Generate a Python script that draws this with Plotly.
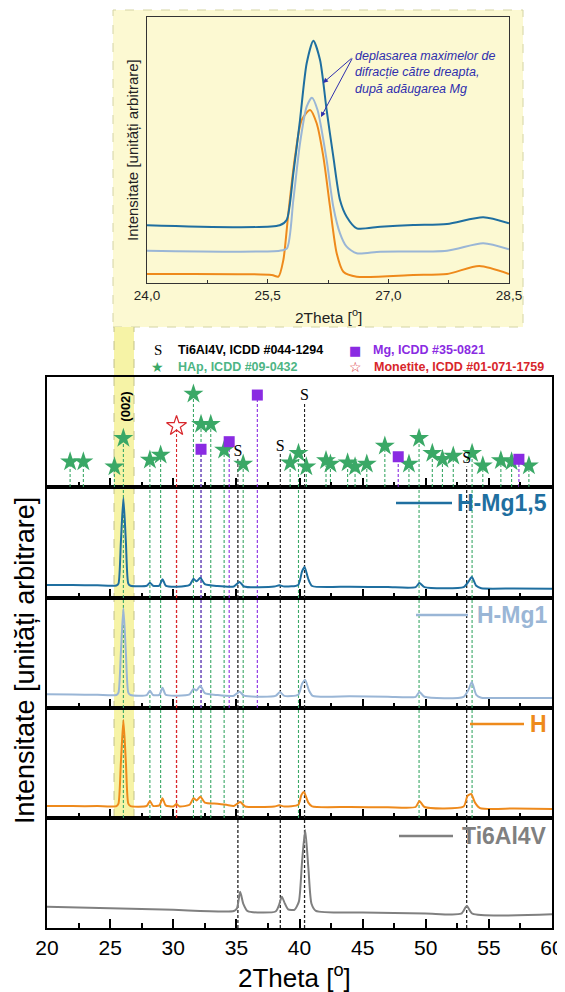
import plotly.graph_objects as go

# page is 565x992; browser body margin (8 px) is compensated
PAGE_W, PAGE_H = 565, 992
OFF = 8
W, H = PAGE_W - OFF, PAGE_H - OFF

# ---------------- DATA ----------------
# inset: (002) reflection, 24-28.5 deg
ins_hmg15_x = [24.0, 25.65, 25.736, 25.819, 25.902, 25.985, 26.068, 26.151, 26.233, 26.316, 26.399, 26.482, 26.607, 26.90, 27.31, 27.73, 28.18, 28.50]
ins_hmg15_y = [57.7, 57.7, 63.0, 109.7, 163.0, 219.7, 242.3, 223.0, 173.0, 126.3, 83.0, 66.3, 54.7, 56.3, 58.0, 59.0, 65.7, 59.7]
ins_hmg1_x = [24.0, 25.65, 25.74, 25.819, 25.902, 25.985, 26.05, 26.12, 26.233, 26.316, 26.399, 26.482, 26.607, 26.90, 27.73, 28.18, 28.50]
ins_hmg1_y = [32.3, 32.3, 34.7, 83.0, 139.7, 176.3, 185.3, 173.0, 123.0, 76.3, 49.7, 36.3, 29.7, 31.3, 32.3, 39.7, 33.7]
ins_h_x = [24.0, 25.55, 25.633, 25.695, 25.757, 25.840, 25.923, 26.027, 26.109, 26.192, 26.275, 26.358, 26.441, 26.607, 27.31, 27.73, 28.13, 28.50]
ins_h_y = [9.0, 8.0, 6.3, 23.0, 69.7, 126.3, 163.0, 173.0, 159.7, 126.3, 76.3, 29.7, 11.3, 6.3, 8.0, 9.0, 17.0, 9.0]

# main XRD patterns (arbitrary units, each panel 0-100)
hmg15_x = [20.0, 22.0, 24.0, 25.5, 25.66, 25.85, 26.05, 26.25, 26.44, 26.62, 27.9, 28.15, 28.4, 28.9, 29.15, 29.4, 30.3, 31.3, 31.6, 31.85,
           32.15, 32.5, 33.5, 34.8, 35.25, 35.6, 38.0, 38.4, 38.8, 39.9, 40.2, 40.4, 40.7, 41.0, 44.0, 47.0, 49.2, 49.5, 49.9, 53.0,
           53.4, 53.65, 54.0, 54.4, 57.0, 60.0]
hmg15_y = [11.8, 11.6, 11.4, 11.3, 13.0, 50.0, 90.0, 50.0, 13.0, 11.0, 11.0, 13.8, 11.0, 11.2, 17.0, 11.2, 10.2, 11.8, 17.3, 15.0,
           18.2, 12.5, 10.8, 10.4, 14.5, 10.4, 10.3, 11.5, 10.3, 11.8, 24.0, 28.0, 17.0, 10.8, 10.2, 9.8, 9.8, 13.6, 9.8, 9.8,
           15.0, 19.0, 11.0, 8.8, 8.6, 8.4]
hmg1_x = [20.0, 22.0, 24.0, 25.5, 25.66, 25.85, 26.05, 26.25, 26.44, 26.62, 27.9, 28.15, 28.4, 28.9, 29.15, 29.4, 30.3, 31.3, 31.6, 31.85,
          32.15, 32.5, 33.5, 34.8, 35.25, 35.6, 38.1, 38.45, 38.8, 39.9, 40.2, 40.45, 40.75, 41.05, 44.0, 47.0, 49.2, 49.5, 49.9, 53.0,
          53.4, 53.65, 54.0, 54.4, 57.0, 60.0]
hmg1_y = [12.4, 12.2, 12.0, 11.8, 14.0, 50.0, 90.6, 50.0, 14.0, 11.8, 11.8, 15.7, 11.8, 12.0, 18.5, 12.0, 11.2, 12.4, 17.3, 16.0,
          20.3, 13.5, 11.8, 11.2, 14.8, 11.2, 11.0, 14.5, 11.0, 12.0, 22.0, 25.5, 16.0, 11.0, 10.6, 10.2, 10.2, 14.5, 10.2, 10.2,
          17.0, 23.6, 12.0, 9.4, 9.2, 9.0]
h_x = [20.0, 22.0, 24.0, 25.5, 25.66, 25.85, 26.05, 26.25, 26.44, 26.62, 27.9, 28.15, 28.4, 28.9, 29.15, 29.4, 30.0, 30.25, 30.5, 31.3,
       31.6, 31.85, 32.15, 32.5, 33.5, 34.2, 34.8, 35.3, 35.7, 38.0, 38.4, 38.8, 39.9, 40.15, 40.35, 40.7, 41.0, 44.0, 47.0, 49.2,
       49.5, 49.9, 53.0, 53.3, 53.6, 53.9, 54.3, 57.0, 60.0]
h_y = [11.0, 10.8, 10.8, 10.8, 13.0, 50.0, 89.0, 50.0, 13.0, 10.8, 11.0, 15.5, 11.0, 11.5, 17.9, 11.5, 10.5, 12.7, 10.5, 12.0,
       18.0, 16.0, 19.4, 14.0, 13.0, 12.0, 11.0, 14.5, 10.5, 10.5, 11.5, 10.5, 12.0, 21.0, 23.6, 14.0, 10.5, 10.0, 9.8, 10.0,
       15.5, 10.0, 10.5, 20.0, 21.8, 14.0, 9.0, 8.6, 8.2]
ti_x = [20.0, 25.0, 30.0, 34.8, 35.05, 35.3, 35.55, 35.9, 38.1, 38.35, 38.6, 38.85, 39.1, 39.6, 39.95, 40.2, 40.45, 40.7, 40.95, 41.3,
        45.0, 50.0, 52.8, 53.25, 53.7, 60.0]
ti_y = [19.4, 18.0, 16.5, 15.5, 18.0, 33.0, 22.0, 15.3, 15.0, 20.0, 28.5, 22.0, 17.0, 16.5, 24.0, 60.0, 89.0, 55.0, 22.0, 15.5,
        14.0, 13.2, 13.0, 20.0, 13.0, 12.5]

# reference patterns (stick positions, relative heights 0-100)
hap_pos = [21.83, 22.88, 25.34, 26.05, 28.15, 29.0, 31.6, 32.2, 32.97, 34.03, 35.54, 39.26, 39.92, 40.54, 42.1, 42.45, 43.81, 44.4,
           45.33, 46.76, 48.67, 49.47, 50.52, 51.32, 52.18, 53.67, 54.52, 55.95, 56.8, 58.17]
hap_int = [23, 23, 18.5, 44.3, 24.5, 29.1, 84.5, 57, 57, 33.6, 20.9, 22.1, 30.6, 18.5, 24, 20.9, 22.1, 18.5,
           20.9, 37.3, 20.9, 44.3, 30.6, 25.2, 28.2, 30.6, 19.4, 24, 23, 19.4]
hap_ext = [26.05, 28.15, 29.0, 31.6, 32.2, 32.97, 34.03, 35.54, 39.92, 49.47, 53.67]
mg_pos = [32.2, 34.43, 36.66, 47.82, 57.38]
mg_int = [34.3, 41.2, 83.6, 27.5, 25.2]
mg_ext = [32.2, 34.43, 36.66]
ti_pos = [35.12, 38.48, 40.4, 53.24]
ti_int = [32.1, 36.6, 82.7, 25.2]
mon_pos = [30.26]
mon_int = [55.5]

xticks_main = [20, 25, 30, 35, 40, 45, 50, 55, 60]
xticks_inset = [24.0, 25.5, 27.0, 28.5]
xticks_inset_text = ["24,0", "25,5", "27,0", "28,5"]
band = [25.31, 26.89]

# ---------------- STYLE ----------------
C_HMG15 = "#1f6fa0"
C_HMG1 = "#9ab6d6"
C_H = "#ee8a1c"
C_TI = "#808080"
C_HAP = "#3aa866"
C_HAP_T = "#4db584"
C_MG = "#8a2be2"
C_MON = "#d8262b"
C_BLK = "#222222"
FONT = "Arial, Liberation Sans, sans-serif"


def xd(px):
    return (px - OFF) / W


def yd(px):
    return 1 - (px - OFF) / H


def segs(pos, y0, y1):
    xs, ys = [], []
    for p in pos:
        xs += [p, p, None]
        ys += [y0, y1, None]
    return xs, ys


def stems(pos, tops, off=0):
    xs, ys = [], []
    for p, t in zip(pos, tops):
        xs += [p, p, None]
        ys += [0, t - off, None]
    return xs, ys


fig = go.Figure()


def vline_trace(pos, color, xa, ya, width=1.1, y0=0, y1=100):
    xs, ys = segs(pos, y0, y1)
    fig.add_trace(go.Scatter(x=xs, y=ys, mode="lines", xaxis=xa, yaxis=ya,
                             line=dict(color=color, width=width, dash="3px,2px"), hoverinfo="skip"))


# ---- dashed extension lines in sample panels ----
for xa, ya in [("x4", "y4"), ("x3", "y3")]:
    vline_trace(hap_ext, C_HAP, xa, ya)
    vline_trace(mon_pos, C_MON, xa, ya, 1.3)
    vline_trace(mg_ext, C_MG, xa, ya)
    vline_trace(ti_pos, C_BLK, xa, ya, 1.3)
vline_trace(hap_ext, C_HAP, "x2", "y2")
vline_trace(mon_pos, C_MON, "x2", "y2", 1.3)
vline_trace(ti_pos, C_BLK, "x2", "y2", 1.3)
vline_trace(ti_pos, C_BLK, "x", "y", 1.3)

# ---- stems in reference panel ----
for pos, tops, col, off in [(hap_pos, hap_int, C_HAP, 0), (mon_pos, mon_int, C_MON, 3),
                            (mg_pos, mg_int, C_MG, 0), (ti_pos, ti_int, C_BLK, 6.5)]:
    xs, ys = stems(pos, tops, off)
    fig.add_trace(go.Scatter(x=xs, y=ys, mode="lines", xaxis="x5", yaxis="y5",
                             line=dict(color=col, width=1.1, dash="3px,2px"), hoverinfo="skip"))

# ---- patterns ----
for xs, ys, col, xa, ya in [(hmg15_x, hmg15_y, C_HMG15, "x4", "y4"), (hmg1_x, hmg1_y, C_HMG1, "x3", "y3"),
                            (h_x, h_y, C_H, "x2", "y2"), (ti_x, ti_y, C_TI, "x", "y")]:
    fig.add_trace(go.Scatter(x=xs, y=ys, mode="lines", xaxis=xa, yaxis=ya,
                             line=dict(color=col, width=2, shape="spline", smoothing=0.6), hoverinfo="skip"))

# ---- reference markers ----
fig.add_trace(go.Scatter(x=hap_pos, y=hap_int, mode="markers", xaxis="x5", yaxis="y5",
                         marker=dict(symbol="star", size=15, color=C_HAP, line=dict(width=0)), hoverinfo="skip"))
fig.add_trace(go.Scatter(x=mon_pos, y=mon_int, mode="markers", xaxis="x5", yaxis="y5",
                         marker=dict(symbol="star-open", size=15, color=C_MON, line=dict(width=1.2)), hoverinfo="skip"))
fig.add_trace(go.Scatter(x=mg_pos, y=mg_int, mode="markers", xaxis="x5", yaxis="y5",
                         marker=dict(symbol="square", size=11, color=C_MG, line=dict(width=0)), hoverinfo="skip"))
fig.add_trace(go.Scatter(x=ti_pos, y=ti_int, mode="text", text=["S"] * len(ti_pos), xaxis="x5", yaxis="y5",
                         textfont=dict(family="Liberation Serif, Times New Roman, serif", size=16, color="black"),
                         hoverinfo="skip"))

# ---- inset ----
for xs, ys, col in [(ins_h_x, ins_h_y, C_H), (ins_hmg1_x, ins_hmg1_y, C_HMG1), (ins_hmg15_x, ins_hmg15_y, C_HMG15)]:
    fig.add_trace(go.Scatter(x=xs, y=ys, mode="lines", xaxis="x6", yaxis="y6",
                             line=dict(color=col, width=2, shape="spline", smoothing=0.7), hoverinfo="skip"))

# ---------------- AXES ----------------
panels = [("", 818, 928), ("2", 708, 818), ("3", 598, 708), ("4", 487, 598), ("5", 377, 487)]
lay = {}
for i, (suf, top, bot) in enumerate(panels):
    lay["xaxis" + suf] = dict(
        domain=[xd(47), xd(552)], range=[20, 60], anchor="y" + suf, automargin=False,
        tickmode="array", tickvals=xticks_main, showticklabels=(suf == ""),
        ticks="inside", ticklen=9, tickwidth=2, tickcolor="black",
        minor=dict(ticks="inside", ticklen=5, tickwidth=1.5, tickcolor="black", tickmode="linear", tick0=20, dtick=2.5),
        showline=True, mirror=True, linecolor="black", linewidth=1.8,
        showgrid=False, zeroline=False,
        tickfont=dict(family=FONT, size=21, color="black"),
        **({} if suf == "" else {"matches": "x"}))
    lay["yaxis" + suf] = dict(
        domain=[yd(bot), yd(top)], range=[0, 100], anchor="x" + suf, automargin=False,
        showticklabels=False, ticks="", showline=True, mirror=True, linecolor="black", linewidth=1.8,
        showgrid=False, zeroline=False)

lay["xaxis6"] = dict(domain=[xd(147), xd(509)], range=[24, 28.5], anchor="y6", automargin=False,
                     tickmode="array", tickvals=xticks_inset, ticktext=xticks_inset_text,
                     ticks="inside", ticklen=4, tickwidth=1, tickcolor="#333",
                     minor=dict(ticks="inside", ticklen=3, tickwidth=1, tickcolor="#333",
                                tickmode="array", tickvals=[24.75, 26.25, 27.75]),
                     showline=True, mirror=True, linecolor="#333", linewidth=1.2,
                     showgrid=False, zeroline=False,
                     tickfont=dict(family=FONT, size=13.5, color="#222"))
lay["yaxis6"] = dict(domain=[yd(283), yd(17)], range=[0, 266], anchor="x6", automargin=False,
                     showticklabels=False, ticks="", showline=True, mirror=True, linecolor="#333", linewidth=1.2,
                     showgrid=False, zeroline=False)

# ---------------- SHAPES ----------------
shapes = [
    dict(type="rect", xref="paper", yref="paper", x0=xd(113), x1=xd(523), y0=yd(327), y1=yd(10),
         fillcolor="#fcf9d2", line=dict(color="#d4d4a4", width=1, dash="dash"), layer="below"),
    dict(type="rect", xref="x", yref="paper", x0=band[0], x1=band[1], y0=yd(818), y1=yd(327),
         fillcolor="#f6f3a6", line=dict(width=0), layer="below"),
    dict(type="line", xref="x", yref="paper", x0=band[0], x1=band[0], y0=yd(818), y1=yd(327),
         line=dict(color="#c2c28a", width=1, dash="dash"), layer="below"),
    dict(type="line", xref="x", yref="paper", x0=band[1], x1=band[1], y0=yd(818), y1=yd(327),
         line=dict(color="#c2c28a", width=1, dash="dash"), layer="below"),
]
for x0, x1, yy, col in [(396, 452, 503, C_HMG15), (416, 468, 615, C_HMG1), (470, 524, 724, C_H), (399, 453, 836, C_TI)]:
    shapes.append(dict(type="line", xref="paper", yref="paper", x0=xd(x0), x1=xd(x1), y0=yd(yy), y1=yd(yy),
                       line=dict(color=col, width=2.5)))

# ---------------- ANNOTATIONS ----------------
ann = []


def txt(x, y, s, size, color="black", bold=False, xanchor="center", angle=0, family=FONT, italic=False):
    if bold:
        s = "<b>" + s + "</b>"
    if italic:
        s = "<i>" + s + "</i>"
    ann.append(dict(xref="paper", yref="paper", x=xd(x), y=yd(y), text=s, showarrow=False,
                    xanchor=xanchor, yanchor="middle", textangle=angle, align="left",
                    font=dict(family=family, size=size, color=color)))


txt(25, 661, "Intensitate [unități arbitrare]", 27, angle=-90)
txt(294, 976, "2Theta [<sup>o</sup>]", 26)
txt(133, 150, "Intensitate [unități arbitrare]", 15, color="#222", angle=-90)
txt(328, 316, "2Theta [<sup>o</sup>]", 15.5, color="#222")
txt(353, 72, "deplasarea maximelor de<br>difracție către dreapta,<br>după adăugarea Mg", 12.5,
    color="#2f2fae", xanchor="left", italic=True)
for hx, hy in [(323, 83), (321, 117)]:
    ann.append(dict(xref="paper", yref="paper", x=xd(hx), y=yd(hy), ax=353 - hx, ay=57 - hy, text="",
                    showarrow=True, arrowhead=2, arrowsize=1, arrowwidth=1, arrowcolor="#2f2fae", standoff=0))
txt(157.7, 350, "S", 15, family="Liberation Serif, Times New Roman, serif")
txt(176, 350, "Ti6Al4V, ICDD #044-1294", 12.5, bold=True, xanchor="left")
txt(355, 350, "■", 13, color=C_MG, family="DejaVu Sans")
txt(371, 350, "Mg, ICDD #35-0821", 12.5, color=C_MG, bold=True, xanchor="left")
txt(157.7, 367, "★", 14, color=C_HAP, family="DejaVu Sans")
txt(176, 367, "HAp, ICDD #09-0432", 12.5, color=C_HAP_T, bold=True, xanchor="left")
txt(355, 367, "☆", 14, color=C_MON, family="DejaVu Sans")
txt(372, 367, "Monetite, ICDD #01-071-1759", 12.5, color=C_MON, bold=True, xanchor="left")
ann.append(dict(xref="x5", yref="y5", x=26.15, y=72.7, text="<b>(002)</b>", showarrow=False, textangle=-90,
                font=dict(family=FONT, size=13, color="black")))
for s, yy, col in [("H-Mg1,5", 503, C_HMG15), ("H-Mg1", 615, C_HMG1), ("H", 724, C_H), ("Ti6Al4V", 836, C_TI)]:
    txt(549, yy, s, 23, color=col, bold=True, xanchor="right")

fig.update_layout(width=W, height=H, margin=dict(l=0, r=0, t=0, b=0, autoexpand=False), showlegend=False,
                  paper_bgcolor="white", plot_bgcolor="rgba(0,0,0,0)",
                  shapes=shapes, annotations=ann, **lay)

fig.write_html("out.html")
